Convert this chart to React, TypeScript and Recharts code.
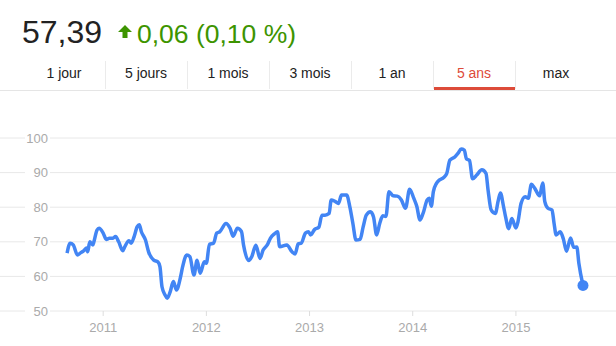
import { LineChart, Line, XAxis, YAxis, CartesianGrid } from "recharts";

// price history, 5 years (decimal year, closing price)
const dates = [
  2010.65, 2010.68, 2010.71, 2010.75, 2010.78, 2010.81, 2010.84, 2010.85, 2010.87, 2010.9,
  2010.91, 2010.94, 2010.96, 2011.0, 2011.03, 2011.06, 2011.09, 2011.12, 2011.15, 2011.19,
  2011.21, 2011.25, 2011.27, 2011.3, 2011.33, 2011.35, 2011.37, 2011.41, 2011.44, 2011.49,
  2011.53, 2011.55, 2011.57, 2011.6, 2011.62, 2011.65, 2011.68, 2011.71, 2011.75, 2011.77,
  2011.81, 2011.84, 2011.88, 2011.91, 2011.94, 2011.98, 2012.0, 2012.03, 2012.07, 2012.1,
  2012.13, 2012.19, 2012.23, 2012.26, 2012.3, 2012.34, 2012.36, 2012.41, 2012.44, 2012.48,
  2012.52, 2012.55, 2012.59, 2012.62, 2012.66, 2012.69, 2012.71, 2012.78, 2012.83, 2012.86,
  2012.89, 2012.92, 2012.96, 2012.99, 2013.01, 2013.05, 2013.09, 2013.12, 2013.15, 2013.19,
  2013.21, 2013.25, 2013.28, 2013.31, 2013.36, 2013.39, 2013.42, 2013.45, 2013.49, 2013.52,
  2013.55, 2013.59, 2013.62, 2013.65, 2013.68, 2013.71, 2013.74, 2013.77, 2013.81, 2013.85,
  2013.89, 2013.93, 2013.97, 2014.01, 2014.04, 2014.07, 2014.1, 2014.14, 2014.16, 2014.18,
  2014.2, 2014.23, 2014.26, 2014.3, 2014.33, 2014.36, 2014.41, 2014.44, 2014.47, 2014.5,
  2014.52, 2014.55, 2014.58, 2014.62, 2014.67, 2014.71, 2014.73, 2014.76, 2014.8, 2014.83,
  2014.85, 2014.88, 2014.9, 2014.93, 2014.96, 2015.0, 2015.02, 2015.05, 2015.09, 2015.12,
  2015.15, 2015.18, 2015.23, 2015.26, 2015.28, 2015.31, 2015.35, 2015.37, 2015.39, 2015.43,
  2015.46, 2015.49, 2015.53, 2015.56, 2015.59, 2015.61, 2015.65,
];

const prices = [
  66.7, 69.6, 69.1, 66.2, 66.8, 67.4, 68.2, 67.1, 70.0, 69.1,
  70.0, 73.4, 73.9, 72.5, 70.7, 71.0, 71.0, 71.5, 70.0, 67.4,
  68.6, 70.3, 69.6, 71.5, 74.4, 74.9, 72.9, 70.5, 67.1, 64.7,
  64.2, 62.8, 57.0, 54.6, 53.7, 55.6, 58.5, 56.1, 59.9, 62.8,
  66.2, 65.7, 60.4, 64.7, 60.9, 64.2, 63.8, 69.3, 69.6, 72.5,
  72.9, 75.3, 73.9, 71.6, 73.9, 73.0, 69.1, 64.6, 65.7, 69.0,
  65.2, 67.6, 69.1, 71.0, 72.3, 72.9, 68.6, 69.1, 67.1, 66.5,
  69.4, 69.6, 72.5, 72.9, 72.0, 73.6, 74.2, 77.7, 77.7, 78.2,
  82.1, 81.6, 81.1, 83.5, 83.5, 80.2, 75.3, 70.5, 70.7, 74.4,
  77.7, 78.7, 77.2, 72.0, 75.3, 77.5, 77.3, 84.5, 83.3, 83.2,
  82.1, 79.7, 85.2, 82.6, 80.2, 76.3, 78.2, 82.1, 82.6, 80.3,
  84.5, 86.9, 87.9, 88.6, 89.8, 93.6, 94.6, 95.6, 96.8, 96.5,
  94.0, 93.5, 88.2, 89.3, 90.8, 89.8, 85.0, 79.2, 78.2, 82.1,
  84.1, 80.2, 77.2, 73.8, 76.7, 74.0, 75.8, 81.1, 83.0, 82.6,
  86.6, 85.6, 83.3, 87.0, 81.6, 79.7, 79.2, 75.3, 72.0, 72.9,
  70.8, 67.3, 71.1, 68.4, 68.5, 63.8, 57.39,
];

const yearTicks = [2011, 2012, 2013, 2014, 2015];
const priceTicks = [50, 60, 70, 80, 90, 100];
const ranges = ["1 jour", "5 jours", "1 mois", "3 mois", "1 an", "5 ans", "max"];
const activeRange = "5 ans";

const chartData = dates.map((t, i) => ({ t, price: prices[i] }));

const FONT = "Arial, 'Liberation Sans', sans-serif";
const BLUE = "#4285f4";

const PriceTick = (props: any) => {
  const { y, payload } = props;
  return (
    <g>
      <rect x={25} y={y - 8} width={25} height={16} fill="#fff" />
      <text x={48} y={y} dy="0.35em" textAnchor="end" fill="#aaa" fontSize={13} fontFamily={FONT}>
        {payload.value}
      </text>
    </g>
  );
};

const LastDot = (props: any) => {
  const { cx, cy, index } = props;
  if (index !== chartData.length - 1) return <g key={index} />;
  return <circle key={index} cx={cx} cy={cy} r={5.5} fill={BLUE} />;
};

export default function App() {
  return (
    <div
      style={{
        position: "absolute",
        left: 0,
        top: 0,
        width: 616,
        height: 346,
        background: "#fff",
        overflow: "hidden",
        fontFamily: FONT,
      }}
    >
      <div style={{ position: "absolute", left: 22, top: 16, fontSize: 32, lineHeight: "32px", color: "#222" }}>
        57,39
      </div>
      <svg style={{ position: "absolute", left: 118, top: 25 }} width={14} height={14}>
        <polygon points="7,0 14,7 9.5,7 9.5,13 4.5,13 4.5,7 0,7" fill="#3d9400" />
      </svg>
      <div style={{ position: "absolute", left: 137, top: 21, fontSize: 26.5, lineHeight: "26px", color: "#3d9400" }}>
        0,06 (0,10 %)
      </div>

      {/* range tabs */}
      <div style={{ position: "absolute", left: 0, top: 90, width: 616, height: 1, background: "#e5e5e5" }} />
      {ranges.map((r, i) => (
        <div key={r}>
          {i > 0 && (
            <div
              style={{ position: "absolute", left: 23 + i * 82, top: 61, width: 1, height: 28, background: "#ebebeb" }}
            />
          )}
          <div
            style={{
              position: "absolute",
              left: 23 + i * 82,
              top: 66,
              width: 82,
              textAlign: "center",
              fontSize: 14,
              lineHeight: "14px",
              color: r === activeRange ? "#dd4b39" : "#222",
            }}
          >
            {r}
          </div>
          {r === activeRange && (
            <div
              style={{ position: "absolute", left: 24 + i * 82, top: 87, width: 81, height: 3, background: "#dd4b39" }}
            />
          )}
        </div>
      ))}

      <div style={{ position: "absolute", left: 0, top: 100 }}>
        <LineChart width={616} height={246} data={chartData} margin={{ top: 38, right: 0, bottom: 0, left: 0 }}>
          <CartesianGrid vertical={false} stroke="#e8e8e8" />
          <XAxis
            dataKey="t"
            type="number"
            domain={[2010.0, 2015.97]}
            allowDataOverflow
            ticks={yearTicks}
            height={35}
            axisLine={false}
            tickSize={5}
            tickMargin={7}
            tickLine={{ stroke: "#ddd" }}
            tick={{ fill: "#aaa", fontSize: 13, fontFamily: FONT }}
          />
          <YAxis
            mirror
            width={50}
            domain={[50, 100]}
            ticks={priceTicks}
            interval={0}
            axisLine={false}
            tickLine={false}
            tick={<PriceTick />}
          />
          <Line
            type="monotone"
            dataKey="price"
            stroke={BLUE}
            strokeWidth={3.5}
            dot={<LastDot />}
            activeDot={false}
            isAnimationActive={false}
          />
        </LineChart>
      </div>
    </div>
  );
}
